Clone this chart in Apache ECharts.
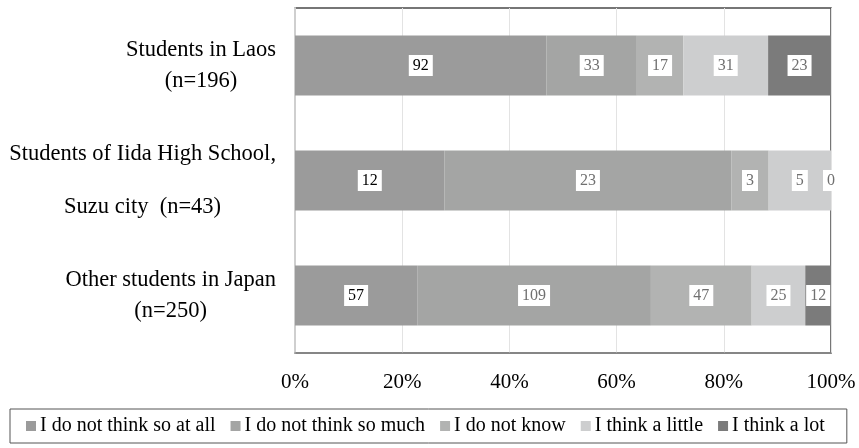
<!DOCTYPE html>
<html>
<head>
<meta charset="utf-8">
<script src="https://cdn.jsdelivr.net/npm/echarts@6/dist/echarts.min.js"></script>
<style>
  html, body { margin: 0; padding: 0; background: #fff; }
  #chart { width: 859px; height: 448px; }
</style>
</head>
<body>
<div id="chart"></div>
<script>
// Survey groups (row labels, top to bottom)
const categories = [
  'Students in Laos\n(n=196)',
  'Students of Iida High School,\nSuzu city  (n=43)',
  'Other students in Japan\n(n=250)'
];

// Answer options
const answers = [
  'I do not think so at all',
  'I do not think so much',
  'I do not know',
  'I think a little',
  'I think a lot'
];

// Number of respondents per answer, one entry per group
const notAtAll = [92, 12, 57];
const notMuch = [33, 23, 109];
const dontKnow = [17, 3, 47];
const aLittle = [31, 5, 25];
const aLot = [23, 0, 12];

// Axis ticks
const xTicks = [0, 20, 40, 60, 80, 100];

const counts = [notAtAll, notMuch, dontKnow, aLittle, aLot];
const colors = ['#9b9b9b', '#a4a5a4', '#b2b3b2', '#cdcecf', '#7b7b7b'];
const labelColors = ['#000000', '#707070', '#707070', '#707070', '#707070'];

const totals = categories.map((_, i) => counts.reduce((s, arr) => s + arr[i], 0));

const serif = '"Liberation Serif", "Times New Roman", serif';

const series = answers.map((name, k) => ({
  name: name,
  type: 'bar',
  stack: 'total',
  barWidth: '52%',
  itemStyle: { color: colors[k] },
  label: {
    show: true,
    position: 'inside',
    formatter: p => String(p.data.count),
    color: labelColors[k],
    fontFamily: serif,
    fontSize: 16,
    backgroundColor: '#ffffff',
    padding: [3, 4, 2, 4]
  },
  emphasis: { disabled: true },
  data: counts[k].map((c, i) => ({ value: c / totals[i] * 100, count: c }))
}));

const chart = echarts.init(document.getElementById('chart'), null, { renderer: 'canvas' });
chart.setOption({
  animation: false,
  backgroundColor: '#ffffff',
  grid: {
    left: 295, right: 28, top: 8, bottom: 95,
    show: true, borderColor: '#4a4a4a', borderWidth: 1.5
  },
  legend: {
    left: 10, top: 409,
    padding: [7, 22, 7, 16],
    itemGap: 15,
    itemWidth: 10, itemHeight: 10,
    icon: 'rect',
    borderColor: '#555555', borderWidth: 1,
    textStyle: { fontFamily: serif, fontSize: 20, color: '#000', padding: [0, 0, 0, -1] },
    data: answers
  },
  xAxis: {
    type: 'value',
    min: xTicks[0], max: xTicks[xTicks.length - 1], interval: 20,
    axisLine: { show: true, lineStyle: { color: '#8c8c8c', width: 1.5 } },
    axisTick: { show: false },
    splitLine: { show: true, lineStyle: { color: '#e3e3e3', width: 1 } },
    axisLabel: {
      formatter: '{value}%', color: '#000', fontFamily: serif, fontSize: 21, margin: 19
    }
  },
  yAxis: {
    type: 'category',
    inverse: true,
    data: categories,
    axisLine: { show: true, lineStyle: { color: '#cfcfcf', width: 2 } },
    axisTick: { show: false },
    axisLabel: {
      margin: 19,
      align: 'right',
      formatter: (v, i) => {
        const key = i === 1 ? 'wide' : 'line';
        return v.split('\n').map(s => '{' + key + '|' + s + '}').join('\n');
      },
      rich: {
        line: { align: 'center', fontFamily: serif, fontSize: 22.5, color: '#000', lineHeight: 31 },
        wide: { align: 'center', fontFamily: serif, fontSize: 22.5, color: '#000', lineHeight: 53 }
      }
    }
  },
  series: series
});
</script>
</body>
</html>
